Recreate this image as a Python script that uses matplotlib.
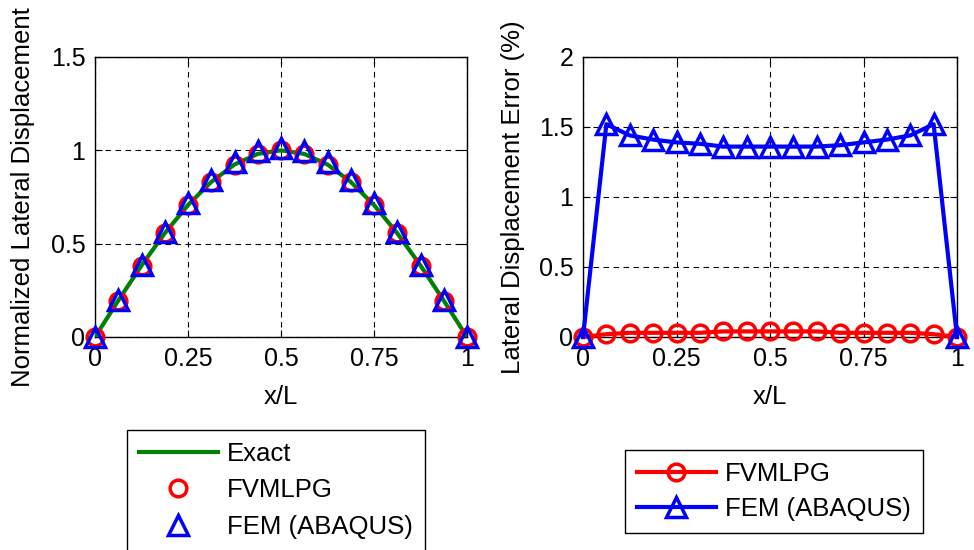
import matplotlib
matplotlib.use("Agg")
import matplotlib.pyplot as plt

plt.rcParams["font.family"] = ["Liberation Sans", "DejaVu Sans"]
plt.rcParams["font.size"] = 18

# 17 nodes along the beam
x_over_L = [0, 0.0625, 0.125, 0.1875, 0.25, 0.3125, 0.375, 0.4375, 0.5,
            0.5625, 0.625, 0.6875, 0.75, 0.8125, 0.875, 0.9375, 1]

exact = [0, 0.195, 0.383, 0.556, 0.707, 0.831, 0.924, 0.981, 1.0,
         0.981, 0.924, 0.831, 0.707, 0.556, 0.383, 0.195, 0]
fvmlpg = [0, 0.195, 0.383, 0.556, 0.707, 0.831, 0.924, 0.980, 1.0,
          0.980, 0.924, 0.831, 0.707, 0.556, 0.383, 0.195, 0]
fem = [0, 0.198, 0.388, 0.564, 0.717, 0.842, 0.937, 0.994, 1.014,
       0.994, 0.937, 0.842, 0.717, 0.564, 0.388, 0.198, 0]

err_fvmlpg = [0, 0.02, 0.03, 0.03, 0.03, 0.03, 0.04, 0.04, 0.04,
              0.04, 0.04, 0.03, 0.03, 0.03, 0.03, 0.02, 0]
err_fem = [0, 1.52, 1.44, 1.41, 1.39, 1.38, 1.36, 1.36, 1.36,
           1.36, 1.36, 1.37, 1.39, 1.41, 1.44, 1.52, 0]

xticks = [0, 0.25, 0.5, 0.75, 1]
xticklabels = ["0", "0.25", "0.5", "0.75", "1"]

fig = plt.figure(figsize=(9.74, 5.5), dpi=100)
ax1 = fig.add_axes([95 / 974, 1 - 337 / 550, 372 / 974, 280 / 550])
ax2 = fig.add_axes([583 / 974, 1 - 337 / 550, 374 / 974, 280 / 550])


def style(ax, ylim, yticks, yticklabels):
    ax.set_xlim(0, 1)
    ax.set_ylim(*ylim)
    ax.set_xticks(xticks)
    ax.set_xticklabels(xticklabels)
    ax.set_yticks(yticks)
    ax.set_yticklabels(yticklabels)
    ax.grid(True, color="black", linestyle=(0, (5, 4)), linewidth=0.8)
    ax.tick_params(direction="in", top=True, right=True, length=5, pad=7)
    for s in ax.spines.values():
        s.set_linewidth(1.0)
    ax.set_xlabel("x/L", labelpad=10, fontsize=18.5)


# Left panel
l1, = ax1.plot(x_over_L, exact, color="green", lw=3, label="Exact", zorder=3)
l2, = ax1.plot(x_over_L, fvmlpg, ls="none", marker="o", ms=12, mfc="none",
               mec="red", mew=2.5, label="FVMLPG", zorder=4, clip_on=False)
l3, = ax1.plot(x_over_L, fem, ls="none", marker="^", ms=14.5, mfc="none",
               mec="blue", mew=2.5, label="FEM (ABAQUS)", zorder=5, clip_on=False)
style(ax1, (0, 1.5), [0, 0.5, 1, 1.5], ["0", "0.5", "1", "1.5"])
ax1.set_ylabel("Normalized Lateral Displacement", labelpad=11, fontsize=18.5)

# Right panel
r1, = ax2.plot(x_over_L, err_fvmlpg, color="red", lw=3, marker="o", ms=12,
               mfc="none", mec="red", mew=2.5, label="FVMLPG", zorder=4, clip_on=False)
r2, = ax2.plot(x_over_L, err_fem, color="blue", lw=3, marker="^", ms=14.5,
               mfc="none", mec="blue", mew=2.5, label="FEM (ABAQUS)", zorder=5, clip_on=False)
style(ax2, (0, 2), [0, 0.5, 1, 1.5, 2], ["0", "0.5", "1", "1.5", "2"])
ax2.set_ylabel("Lateral Displacement Error (%)", labelpad=10, fontsize=18.5)

leg1 = fig.legend(handles=[l1, l2, l3], loc="upper left",
                  bbox_to_anchor=(127 / 974, 1 - 430 / 550), borderaxespad=0,
                  fancybox=False, edgecolor="black", framealpha=1,
                  handlelength=3.1, borderpad=0.45, labelspacing=0.5,
                  handletextpad=0.35, fontsize=18.5)
leg1.get_frame().set_linewidth(1.0)

leg2 = fig.legend(handles=[r1, r2], loc="upper left",
                  bbox_to_anchor=(625 / 974, 1 - 450 / 550), borderaxespad=0,
                  fancybox=False, edgecolor="black", framealpha=1,
                  handlelength=3.1, borderpad=0.45, labelspacing=0.45,
                  handletextpad=0.35, fontsize=18.5)
leg2.get_frame().set_linewidth(1.0)

fig.savefig("out.png", dpi=100)
